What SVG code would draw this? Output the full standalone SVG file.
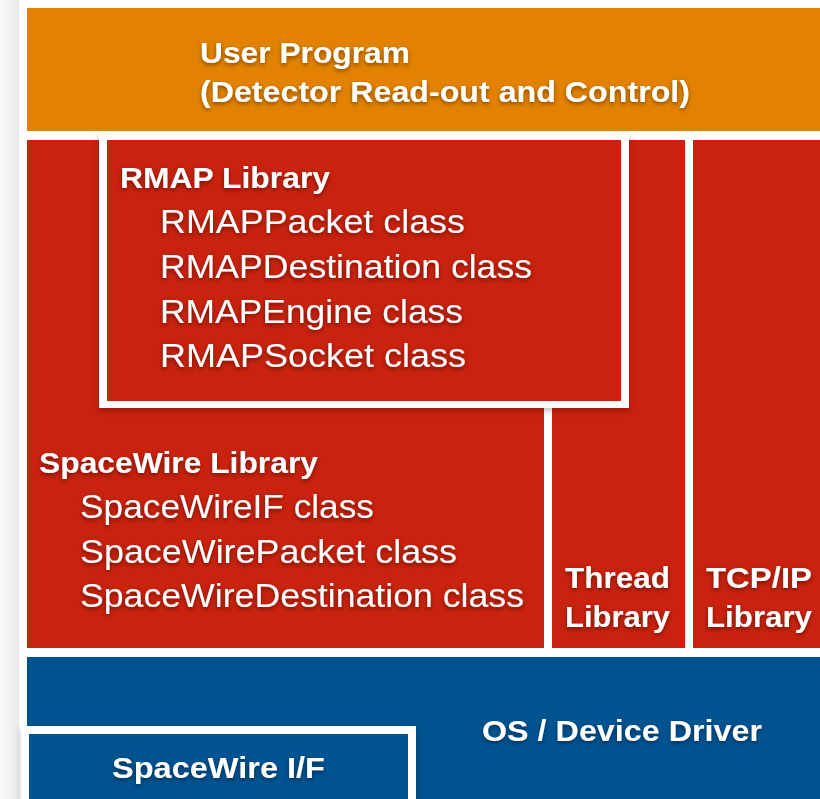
<svg xmlns="http://www.w3.org/2000/svg" width="820" height="799" viewBox="0 0 820 799">
  <defs>
    <linearGradient id="edge" x1="0" y1="0" x2="1" y2="0">
      <stop offset="0" stop-color="#fbfbfb"/>
      <stop offset="1" stop-color="#e9e9e9"/>
    </linearGradient>
    <filter id="ts" x="-10%" y="-40%" width="120%" height="180%">
      <feDropShadow dx="0" dy="2" stdDeviation="2" flood-color="#000" flood-opacity="0.45"/>
    </filter>
    <filter id="bs" x="-5%" y="-5%" width="110%" height="115%">
      <feDropShadow dx="0" dy="3" stdDeviation="3" flood-color="#000" flood-opacity="0.25"/>
    </filter>
  </defs>
  <style>
    .orange { fill: #E38200; }
    .red { fill: #C9220E; }
    .blue { fill: #005391; }
    .white { fill: #ffffff; }
    text { fill: #ffffff; font-family: "Liberation Sans", Arial, sans-serif; }
    .b { font-weight: bold; font-size: 29.5px; }
    .r { font-weight: normal; font-size: 33px; }
  </style>
  <rect x="0" y="0" width="820" height="799" fill="#ffffff"/>
  <rect x="0" y="0" width="19" height="799" fill="url(#edge)"/>

  <g id="user-program">
    <rect class="orange" x="27" y="8" width="793" height="123"/>
    <text class="b" x="200" y="63" textLength="210" lengthAdjust="spacingAndGlyphs" filter="url(#ts)">User Program</text>
    <text class="b" x="200" y="102" textLength="490" lengthAdjust="spacingAndGlyphs" filter="url(#ts)">(Detector Read-out and Control)</text>
  </g>

  <g id="spacewire-library">
    <rect class="red" x="27" y="140" width="517" height="508"/>
    <text class="b" x="39" y="473" textLength="279" lengthAdjust="spacingAndGlyphs" filter="url(#ts)">SpaceWire Library</text>
    <text class="r" x="80" y="518" textLength="294" lengthAdjust="spacingAndGlyphs" filter="url(#ts)">SpaceWireIF class</text>
    <text class="r" x="80" y="563" textLength="377" lengthAdjust="spacingAndGlyphs" filter="url(#ts)">SpaceWirePacket class</text>
    <text class="r" x="80" y="607" textLength="444" lengthAdjust="spacingAndGlyphs" filter="url(#ts)">SpaceWireDestination class</text>
  </g>

  <g id="thread-library">
    <rect class="red" x="552" y="140" width="133" height="508"/>
    <text class="b" x="565" y="588" textLength="105" lengthAdjust="spacingAndGlyphs" filter="url(#ts)">Thread</text>
    <text class="b" x="565" y="627" textLength="105" lengthAdjust="spacingAndGlyphs" filter="url(#ts)">Library</text>
  </g>

  <g id="tcpip-library">
    <rect class="red" x="693" y="140" width="127" height="508"/>
    <text class="b" x="706" y="588" textLength="106" lengthAdjust="spacingAndGlyphs" filter="url(#ts)">TCP/IP</text>
    <text class="b" x="706" y="627" textLength="106" lengthAdjust="spacingAndGlyphs" filter="url(#ts)">Library</text>
  </g>

  <g id="rmap-library">
    <rect class="white" x="99" y="134" width="530" height="274" filter="url(#bs)"/>
    <rect class="red" x="107" y="140" width="514" height="261"/>
    <text class="b" x="120" y="188" textLength="210" lengthAdjust="spacingAndGlyphs" filter="url(#ts)">RMAP Library</text>
    <text class="r" x="160" y="233" textLength="305" lengthAdjust="spacingAndGlyphs" filter="url(#ts)">RMAPPacket class</text>
    <text class="r" x="160" y="278" textLength="372" lengthAdjust="spacingAndGlyphs" filter="url(#ts)">RMAPDestination class</text>
    <text class="r" x="160" y="323" textLength="303" lengthAdjust="spacingAndGlyphs" filter="url(#ts)">RMAPEngine class</text>
    <text class="r" x="160" y="367" textLength="306" lengthAdjust="spacingAndGlyphs" filter="url(#ts)">RMAPSocket class</text>
  </g>

  <g id="os-device-driver">
    <rect class="blue" x="27" y="657" width="793" height="142"/>
    <text class="b" x="482" y="741" textLength="280" lengthAdjust="spacingAndGlyphs" filter="url(#ts)">OS / Device Driver</text>
  </g>

  <g id="spacewire-if">
    <rect class="white" x="21" y="726" width="395" height="80" filter="url(#bs)"/>
    <rect class="blue" x="29" y="734" width="379" height="70"/>
    <text class="b" x="112" y="778" textLength="213" lengthAdjust="spacingAndGlyphs" filter="url(#ts)">SpaceWire I/F</text>
  </g>

  <g id="connectors"/>
</svg>
